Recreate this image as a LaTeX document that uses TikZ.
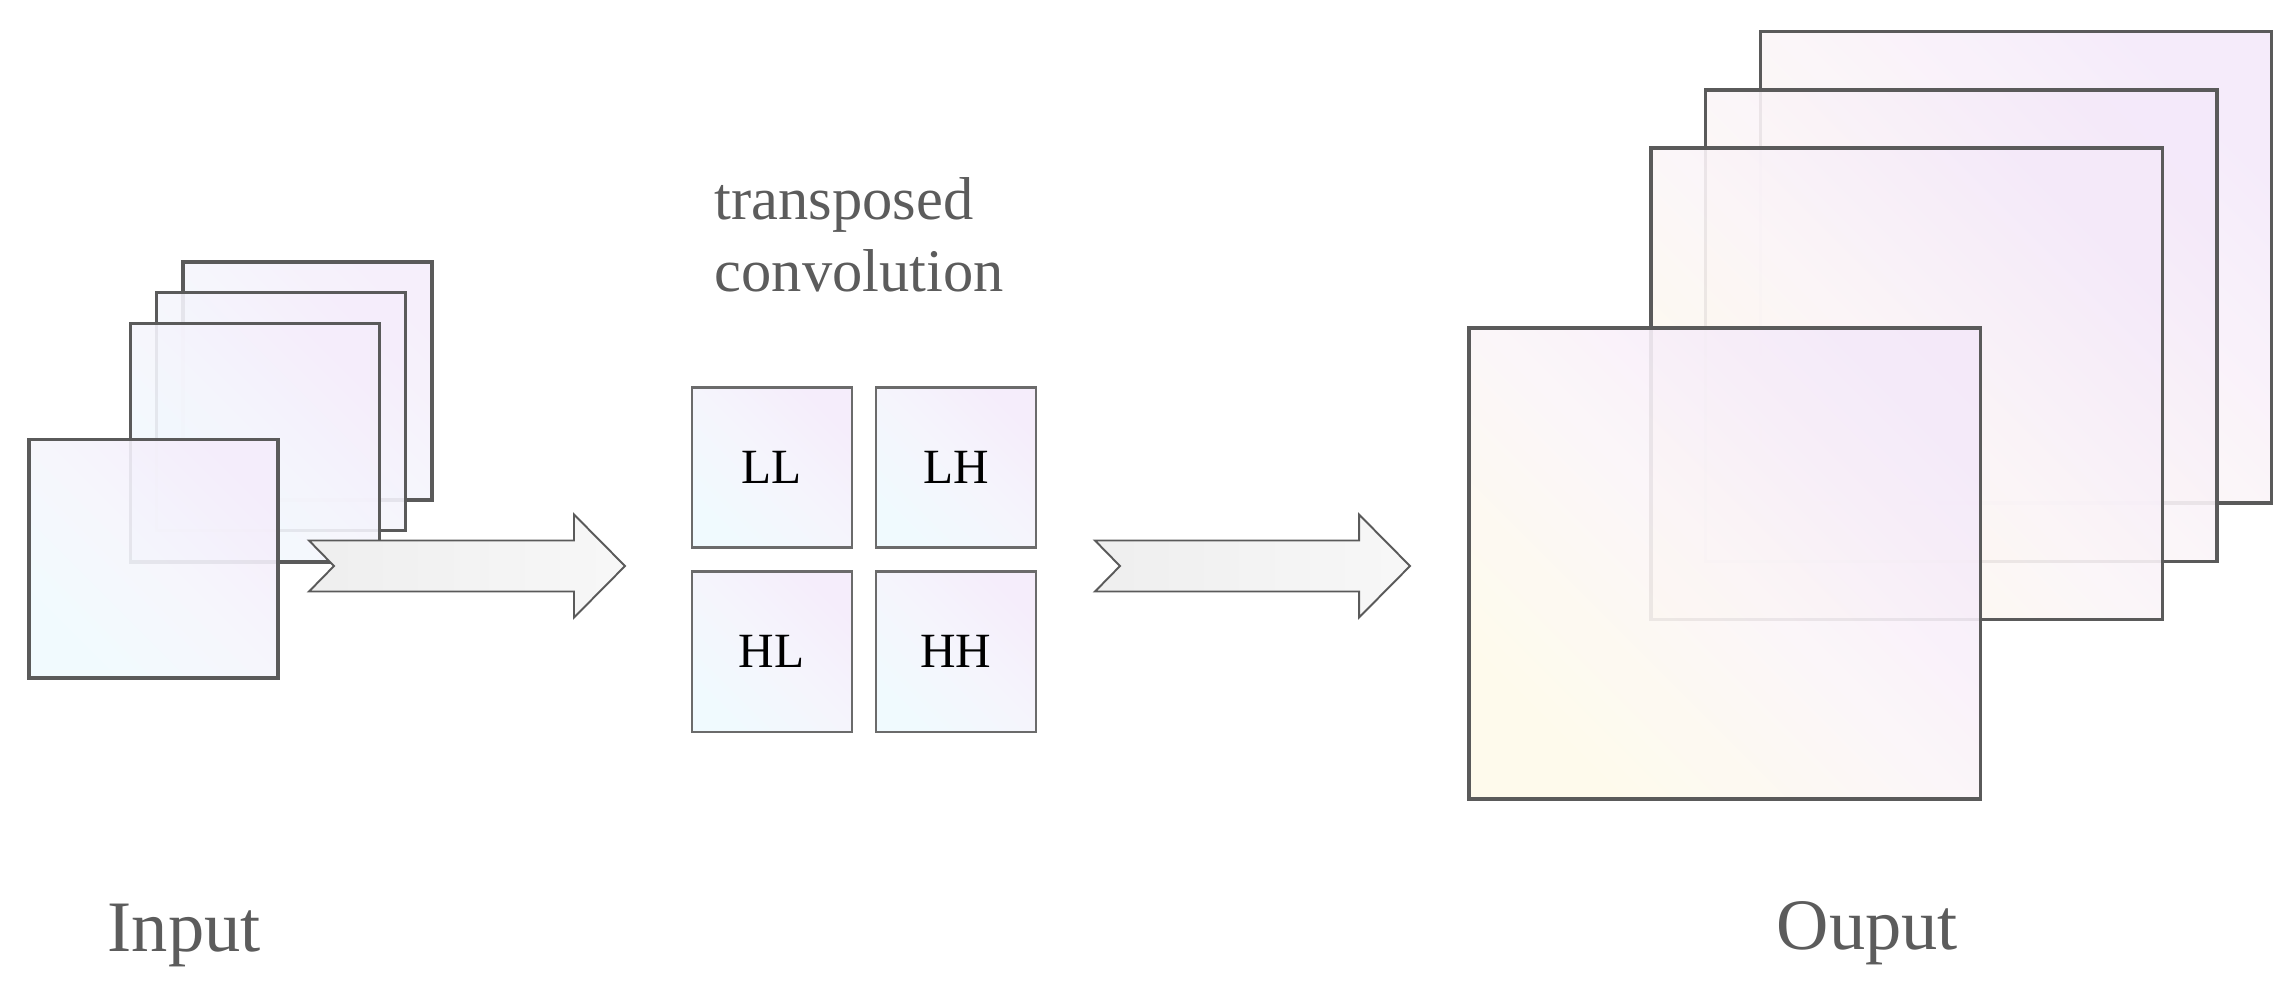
\documentclass[tikz,border=0pt]{standalone}
\usepackage{fontspec}
\setmainfont{Liberation Serif}
\usepackage{tikz}
\usetikzlibrary{positioning,calc}
\definecolor{edge}{HTML}{5A5A5A}
\definecolor{txt}{HTML}{5C5C5C}
\definecolor{inlo}{HTML}{F0FAFE}
\definecolor{inmid}{HTML}{F5F5FC}
\definecolor{inhi}{HTML}{F5EDFB}
\definecolor{outlo}{HTML}{FEFAEA}
\definecolor{outmid}{HTML}{FBF5F8}
\definecolor{outhi}{HTML}{F4E9FA}
% block arrow with a notched tail, from #1 to #2
\newcommand{\fatarrow}[2]{%
  \draw[fat] let \p1=(#1), \p2=(#2) in
    (\x1,\y1+7.25pt) -- (\x2-14.5pt,\y1+7.25pt) -- (\x2-14.5pt,\y1+14.65pt) -- (\x2,\y1)
    -- (\x2-14.5pt,\y1-14.65pt) -- (\x2-14.5pt,\y1-7.25pt) -- (\x1,\y1-7.25pt)
    -- (\x1+7.1pt,\y1) -- cycle;}

\begin{document}
\begin{tikzpicture}[x=0.01cm,y=-0.01cm,
  inmap/.style={draw=edge,line width=0.95pt,inner sep=0,outer sep=0,
    minimum width=2.49cm,minimum height=2.38cm,
    top color=inhi,bottom color=inlo,middle color=inmid,shading angle=-45,fill opacity=0.9},
  outmap/.style={inmap,minimum width=5.11cm,minimum height=4.71cm,
    top color=outhi,bottom color=outlo,middle color=outmid,shading angle=-45},
  band/.style={draw=edge!90,line width=0.65pt,inner sep=0,outer sep=0,
    minimum width=1.6cm,minimum height=1.6cm,
    top color=inhi,bottom color=inlo,middle color=inmid,shading angle=-45,
    font=\fontsize{14}{16}\selectfont},
  fat/.style={draw=edge,line width=0.55pt,left color=gray!13,right color=gray!6},
  lbl/.style={text=txt,inner sep=0,font=\fontsize{20.6}{24}\selectfont}]
\useasboundingbox (0,0) rectangle (2295,993);
% input stack
\node[inmap] (in3) at (307.5,381) {};
\node[inmap] (in2) at (281,411.3) {};
\node[inmap] (in1) at (254.8,442.8) {};
\node[inmap] (in0) at (153.5,558.8) {};
% subbands
\node[band] (LL) at (771.7,467.5) {LL};
\node[band,right=0.24cm of LL] (LH) {LH};
\node[band,below=0.24cm of LL] (HL) {HL};
\node[band,below=0.24cm of LH] (HH) {HH};
\node[text=txt,inner sep=0,align=left,anchor=base west,
  font=\fontsize{17.2}{20.4}\selectfont] (tc) at (714,291.7) {transposed\\convolution};
% output stack
\node[outmap] (out3) at (2016,267.3) {};
\node[outmap] (out2) at (1961.3,325.7) {};
\node[outmap] (out1) at (1906.5,383.7) {};
\node[outmap] (out0) at (1724.5,563.5) {};
% arrows
\coordinate (t1) at (309,566);
\coordinate (h1) at (625,566);
\coordinate (t2) at (1095,566);
\coordinate (h2) at (1410,566);
\fatarrow{t1}{h1}
\fatarrow{t2}{h2}
\node[lbl,anchor=base west] (inlbl) at (107,951.7) {Input};
\node[lbl,anchor=base west] (outlbl) at (1776,949) {Ouput};
\end{tikzpicture}
\end{document}
